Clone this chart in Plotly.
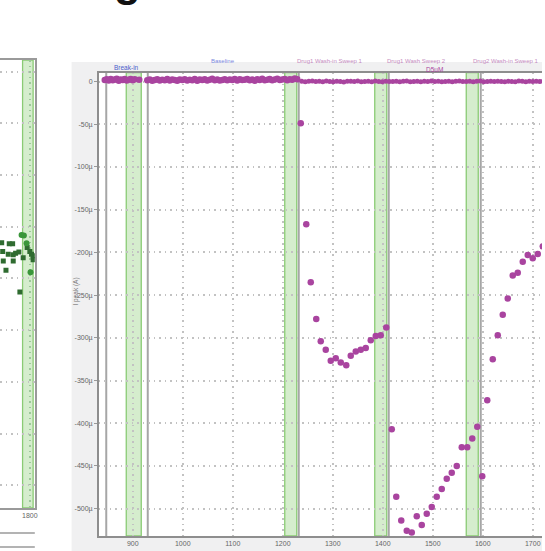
import plotly.graph_objects as go

W, H = 545, 551

# ---- peak current, main recording (units: µA, time in s) ----
t_early = [844, 848, 852, 856, 860, 864, 868, 872, 876, 880, 884, 888, 892, 896, 900, 904, 913]
i_early = [1.8, 2.6, 1.2, 2.9, 1.5, 2.2, 3.1, 1.0, 2.4, 1.7, 2.8, 1.3, 2.1, 3.0, 1.6, 2.5, 2.0]

t_base = [929, 934, 939, 944, 949, 954, 959, 964, 969, 974, 979, 984, 989, 994, 999, 1004, 1009,
          1014, 1019, 1024, 1029, 1034, 1039, 1044, 1049, 1054, 1059, 1064, 1069, 1074, 1079, 1084,
          1089, 1094, 1099, 1104, 1109, 1114, 1119, 1124, 1129, 1134, 1139, 1144, 1149, 1154, 1159,
          1164, 1169, 1174, 1179, 1184, 1189, 1194, 1199, 1204, 1209, 1214, 1219, 1224, 1229]
i_base = [1.4, 2.3, 0.9, 1.8, 2.7, 1.1, 2.0, 1.6, 2.9, 1.2,
          2.4, 1.7, 0.8, 2.2, 1.9, 2.6, 1.3, 2.1, 1.5, 2.8,
          1.0, 2.3, 1.8, 2.5, 1.2, 2.0, 3.1, 1.6, 2.4, 1.1,
          1.9, 2.7, 1.4, 2.2, 1.7, 3.0, 1.3, 2.5, 1.8, 2.1,
          2.9, 1.5, 2.3, 1.0, 2.6, 1.9, 3.2, 1.4, 2.0, 2.8,
          1.6, 2.4, 3.3, 1.8, 2.2, 3.0, 1.5, 2.7, 2.1, 3.4, 2.5]

t_drug = [1236, 1247, 1256, 1267, 1276, 1286, 1296, 1306, 1316, 1327,
          1336, 1346, 1356, 1366, 1376, 1386, 1396, 1407, 1418, 1427,
          1437, 1448, 1458, 1468, 1478, 1488, 1498, 1508, 1518, 1528,
          1538, 1548, 1558, 1569, 1579, 1589, 1599, 1609, 1620, 1630,
          1640, 1650, 1660, 1670, 1680, 1690, 1700, 1710, 1720]
i_drug = [-49, -167, -235, -278, -304, -314, -327, -324, -329, -332,
          -321, -316, -314, -312, -303, -298, -297, -288, -407, -486,
          -514, -526, -528, -509, -519, -506, -498, -486, -477, -465,
          -458, -450, -428, -428, -418, -404, -462, -373, -325, -297,
          -273, -254, -227, -224, -211, -203, -207, -202, -193]

# ---- holding-level reference series (µA) ----
t_hold = [1238, 1245, 1252, 1259, 1266, 1273, 1280, 1287, 1294, 1301, 1308, 1315, 1322, 1329,
          1336, 1343, 1350, 1357, 1364, 1371, 1378, 1385, 1392, 1399, 1406, 1413, 1420, 1427,
          1434, 1441, 1448, 1455, 1462, 1469, 1476, 1483, 1490, 1497, 1504, 1511, 1518, 1525,
          1532, 1539, 1546, 1553, 1560, 1567, 1574, 1581, 1588, 1595, 1602, 1609, 1616, 1623,
          1630, 1637, 1644, 1651, 1658, 1665, 1672, 1679, 1686, 1693, 1700, 1707, 1714, 1721]
i_hold = [0.4, -0.3, 0.2, 0.6, -0.1, 0.3, -0.4, 0.5, 0.0, -0.2,
          0.3, 0.1, -0.5, 0.4, 0.2, -0.1, 0.6, -0.3, 0.1, 0.2,
          -0.2, 0.5, 0.0, -0.4, 0.3, 0.1, -0.1, 0.4, -0.3, 0.2,
          0.6, -0.2, 0.1, 0.3, -0.4, 0.2, 0.0, 0.5, -0.1, 0.3,
          -0.3, 0.1, 0.4, -0.2, 0.2, 0.6, -0.1, 0.0, 0.3, -0.4,
          0.2, 0.5, -0.2, 0.1, 0.3, -0.1, 0.4, 0.0, -0.3, 0.2,
          0.1, -0.2, 0.5, 0.3, -0.4, 0.2, 0.0, 0.4, -0.1, 0.3]

# ---- neighbouring panel (second cell) ----
t_sq = [1743.4, 1758.6, 1765.4, 1794.6, 1745.4, 1756.6, 1766.6, 1771.4, 1778.0, 1786.6,
        1800.0, 1803.4, 1806.6, 1746.6, 1766.6, 1752.0, 1806.6, 1780.0]
v_sq = [-3.31, -3.33, -3.33, -3.40, -3.48, -3.53, -3.54, -3.51, -3.49, -3.60,
        -3.48, -3.53, -3.56, -3.66, -3.66, -3.84, -3.64, -4.26]
t_ci = [1783.4, 1788.0, 1793.4, 1801.4]
v_ci = [-3.16, -3.17, -3.32, -3.88]

# wash-in windows and sweep-group boundaries (s)
bands = [(887, 917), (1204, 1228), (1384, 1408), (1567, 1591)]
bounds = [847, 930, 1232, 1412, 1596]
left_band = (1785.4, 1806.6)

y_ticks = [0, -50, -100, -150, -200, -250, -300, -350, -400, -450, -500]
y_ticktext = ["0" if v == 0 else f"{v}µ" for v in y_ticks]
x_ticks = [900, 1000, 1100, 1200, 1300, 1400, 1500, 1600, 1700]

PURPLE = "#A9449F"
FONT = "Liberation Sans"
GRID = dict(showgrid=True, gridcolor="#C2C2C2", griddash="1.5px,4px", gridwidth=1.5)
u = 1e-6


def fx(p):
    return p / W


def fy(p):
    return 1 - p / H


fig = go.Figure()

fig.add_trace(go.Scatter(
    x=t_hold, y=[v * u for v in i_hold], mode="markers",
    marker=dict(size=5, color=PURPLE), xaxis="x", yaxis="y", showlegend=False))
fig.add_trace(go.Scatter(
    x=t_early + t_base + t_drug, y=[v * u for v in i_early + i_base + i_drug], mode="markers",
    marker=dict(size=6.5, color=PURPLE), xaxis="x", yaxis="y", showlegend=False))
fig.add_trace(go.Scatter(
    x=t_sq, y=v_sq, mode="markers",
    marker=dict(size=5, symbol="square", color="#2F6B30"), xaxis="x2", yaxis="y2", showlegend=False))
fig.add_trace(go.Scatter(
    x=t_ci, y=v_ci, mode="markers",
    marker=dict(size=6, color="#3A963A"), xaxis="x2", yaxis="y2", showlegend=False))

shapes = [
    # grey panel and white plotting area
    dict(type="rect", xref="paper", yref="paper", x0=fx(72), x1=1, y0=0, y1=fy(62),
         fillcolor="#F0F0F1", line=dict(width=0), layer="below"),
    dict(type="rect", xref="paper", yref="paper", x0=fx(99.3), x1=1, y0=fy(536), y1=fy(72.7),
         fillcolor="white", line=dict(width=0), layer="below"),
    # rules under the neighbouring panel
    dict(type="line", xref="paper", yref="paper", x0=0, x1=fx(35), y0=fy(533), y1=fy(533),
         line=dict(color="#9A9A9A", width=1.5)),
    dict(type="line", xref="paper", yref="paper", x0=0, x1=fx(35), y0=fy(547), y1=fy(547),
         line=dict(color="#9A9A9A", width=1.5)),
]
for a, b in bands:
    shapes.append(dict(type="rect", xref="x", yref="y domain", x0=a, x1=b, y0=0, y1=1,
                       fillcolor="rgba(150,210,130,0.40)",
                       line=dict(color="#8ACB74", width=1.3), layer="below"))
for xb in bounds:
    shapes.append(dict(type="line", xref="x", yref="y domain", x0=xb, x1=xb, y0=0, y1=1,
                       line=dict(color="#A6A6A6", width=2), layer="below"))
shapes.append(dict(type="rect", xref="x2", yref="y2 domain", x0=left_band[0], x1=left_band[1],
                   y0=0, y1=1, fillcolor="rgba(150,210,130,0.40)",
                   line=dict(color="#8ACB74", width=1.3), layer="below"))


def label(text, x, y, color, size=6.5, **kw):
    return dict(text=text, x=fx(x), y=fy(y), xref="paper", yref="paper",
                xanchor="center", yanchor="middle", showarrow=False,
                font=dict(family=FONT, size=size, color=color), **kw)


annotations = [
    dict(text="<b>g</b>", x=fx(128), y=fy(7), xref="paper", yref="paper",
         xanchor="center", yanchor="bottom", showarrow=False,
         font=dict(family=FONT, size=44, color="#111111")),
    label("Break-in", 127, 68, "#4B5CCB"),
    label("Baseline", 224, 61, "#7B88DE", size=6),
    label("Drug1 Wash-in Sweep 1", 331, 61, "#C58BC0", size=6),
    label("Drug1 Wash Sweep 2", 419, 61, "#C58BC0", size=6),
    label("Drug2 Wash-in Sweep 1", 508, 61, "#C58BC0", size=6),
    label("D5uM", 437, 69, "#A9449F"),
    label("I peak (A)", 76, 292, "#777777", textangle=-90),
    label("Sweep Time (s)", 338, 554, "#777777", size=7),
]

tickfont = dict(family=FONT, size=7, color="#666666")

fig.update_layout(
    width=W, height=H, margin=dict(l=0, r=0, t=0, b=0),
    paper_bgcolor="white", plot_bgcolor="rgba(0,0,0,0)",
    shapes=shapes, annotations=annotations, showlegend=False,
    xaxis=dict(domain=[fx(99.3), 1], range=[832, 1718.5], anchor="y",
               tickvals=x_ticks, tickfont=tickfont, ticks="",
               showline=True, linecolor="#8E8E8E", linewidth=1.5, mirror=True, zeroline=False, **GRID),
    yaxis=dict(domain=[fy(536), fy(72.7)], range=[-532e-6, 10.3e-6], anchor="x",
               tickvals=[v * u for v in y_ticks], ticktext=y_ticktext, tickfont=tickfont,
               ticks="outside", ticklen=3, tickcolor="#999999",
               showline=True, linecolor="#8E8E8E", linewidth=1.5, zeroline=False, **GRID),
    xaxis2=dict(domain=[0, fx(35)], range=[1740, 1810], anchor="y2",
                tickvals=[1800], tickfont=tickfont, ticks="",
                showgrid=True, gridcolor="#9CC79A", griddash="1.5px,4px", gridwidth=1.5,
                showline=True, linecolor="#9A9A9A", linewidth=1.5, mirror=True, zeroline=False),
    yaxis2=dict(domain=[fy(508), fy(60)], range=[-8.44, 0.226], anchor="x2", side="right",
                dtick=1, showticklabels=False, ticks="",
                showline=True, linecolor="#9A9A9A", linewidth=1.5, zeroline=False, **GRID),
)

fig.write_html("out.html")
